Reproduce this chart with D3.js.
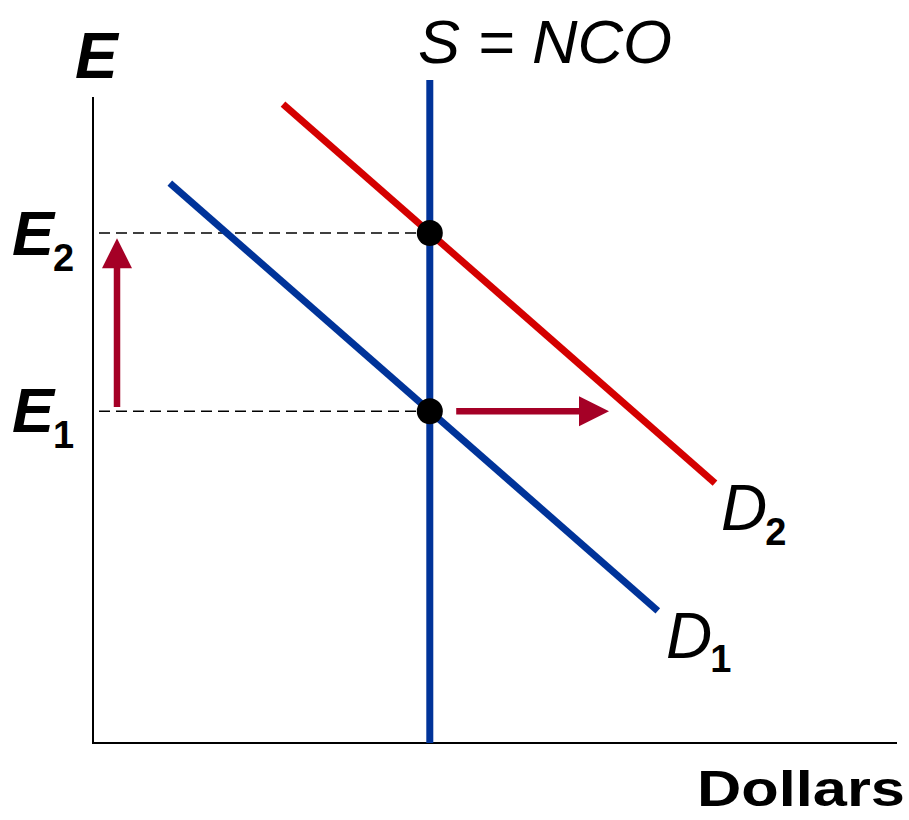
<!DOCTYPE html>
<html><head><meta charset="utf-8">
<script src="https://cdn.jsdelivr.net/npm/d3@7"></script>
<style>html,body{margin:0;padding:0;background:#fff;}svg{display:block;}</style>
</head><body>
<svg id="c" width="909" height="820"></svg>
<script>
// Abstract diagram data (units: 0..100 on each axis)
const supplyX = 42.1;           // S = NCO vertical line
const supplyTop = 102.3;
const equilibria = [{name:"E1", y:51.2}, {name:"E2", y:78.7}];
const demand1 = [[9.6, 86.4], [70.6, 20.4]];
const demand2 = [[23.75, 98.6], [77.75, 40.1]];
const upArrow = [[3.0, 51.85], [3.0, 77.9]];
const rightArrow = [[45.4, 51.2], [64.5, 51.2]];
const dashStartX = 0.75;
const labels = {y:"E", x:"Dollars", s:"S = NCO"};

const svg = d3.select("#c");
const x = d3.scaleLinear().domain([0, 100]).range([93, 893]);
const y = d3.scaleLinear().domain([0, 100]).range([743, 95]);
const font = "'Liberation Sans', Arial, Helvetica, sans-serif";
const blue = "#003399", red = "#d40000", arrowRed = "#a50026";

// axes
svg.append("line").attr("x1", x(0)).attr("x2", x(0)).attr("y1", y(100) + 2).attr("y2", y(0))
  .attr("stroke", "#000").attr("stroke-width", 2);
svg.append("line").attr("x1", x(0) - 1).attr("x2", x(100) + 4).attr("y1", y(0)).attr("y2", y(0))
  .attr("stroke", "#000").attr("stroke-width", 2);

// dashed guides
svg.selectAll("line.dash").data(equilibria).join("line").attr("class", "dash")
  .attr("x1", x(dashStartX)).attr("x2", x(supplyX)).attr("y1", d => y(d.y)).attr("y2", d => y(d.y))
  .attr("stroke", "#000").attr("stroke-width", 1.5).attr("stroke-dasharray", "11,6");

const line = d3.line().x(d => x(d[0])).y(d => y(d[1]));
svg.append("path").attr("d", line(demand1)).attr("stroke", blue).attr("stroke-width", 7).attr("fill", "none");
svg.append("path").attr("d", line(demand2)).attr("stroke", red).attr("stroke-width", 7).attr("fill", "none");
svg.append("line").attr("x1", x(supplyX)).attr("x2", x(supplyX)).attr("y1", y(supplyTop)).attr("y2", y(0))
  .attr("stroke", blue).attr("stroke-width", 7);

svg.selectAll("circle.eq").data(equilibria).join("circle").attr("class", "eq")
  .attr("cx", x(supplyX)).attr("cy", d => y(d.y)).attr("r", 13).attr("fill", "#000");

function arrow(p0, p1) {
  const x0 = x(p0[0]), y0 = y(p0[1]), x1 = x(p1[0]), y1 = y(p1[1]);
  const len = Math.hypot(x1 - x0, y1 - y0), ux = (x1 - x0) / len, uy = (y1 - y0) / len;
  const hl = 30, hw = 15;
  const bx = x1 - ux * hl, by = y1 - uy * hl;
  svg.append("line").attr("x1", x0).attr("y1", y0).attr("x2", bx + ux * 2).attr("y2", by + uy * 2)
    .attr("stroke", arrowRed).attr("stroke-width", 6.5);
  svg.append("path").attr("d", `M${x1},${y1}L${bx - uy * hw},${by + ux * hw}L${bx + uy * hw},${by - ux * hw}Z`)
    .attr("fill", arrowRed);
}
arrow(upArrow[0], upArrow[1]);
arrow(rightArrow[0], rightArrow[1]);

function sublabel(px, py, main, sub, size, subSize, weight, style, subDx, subDy) {
  const t = svg.append("text").attr("x", px).attr("y", py).attr("font-family", font)
    .attr("font-size", size).attr("font-weight", weight).attr("font-style", style).attr("fill", "#000");
  t.append("tspan").text(main);
  t.append("tspan").attr("dx", subDx).attr("dy", subDy).attr("font-size", subSize)
    .attr("font-weight", "bold").attr("font-style", "normal").text(sub);
}
svg.append("text").attr("x", 75).attr("y", 78).attr("font-family", font).attr("font-size", 64)
  .attr("font-weight", "bold").attr("font-style", "italic").text(labels.y);
sublabel(12, 255, "E", "2", 63, 38, "bold", "italic", -1, 16);
sublabel(12, 432, "E", "1", 63, 38, "bold", "italic", -1, 16);
svg.append("text").attr("x", 418).attr("y", 63).attr("font-family", font).attr("font-size", 61)
  .attr("font-style", "italic").attr("textLength", 254).attr("lengthAdjust", "spacingAndGlyphs").text(labels.s);
sublabel(721, 530, "D", "2", 64, 38, "normal", "italic", -2, 15);
sublabel(666, 658, "D", "1", 64, 38, "normal", "italic", -2, 14);
svg.append("text").attr("x", 697).attr("y", 806).attr("font-family", font).attr("font-size", 50)
  .attr("font-weight", "bold").attr("textLength", 208).attr("lengthAdjust", "spacingAndGlyphs").text(labels.x);
</script>
</body></html>
